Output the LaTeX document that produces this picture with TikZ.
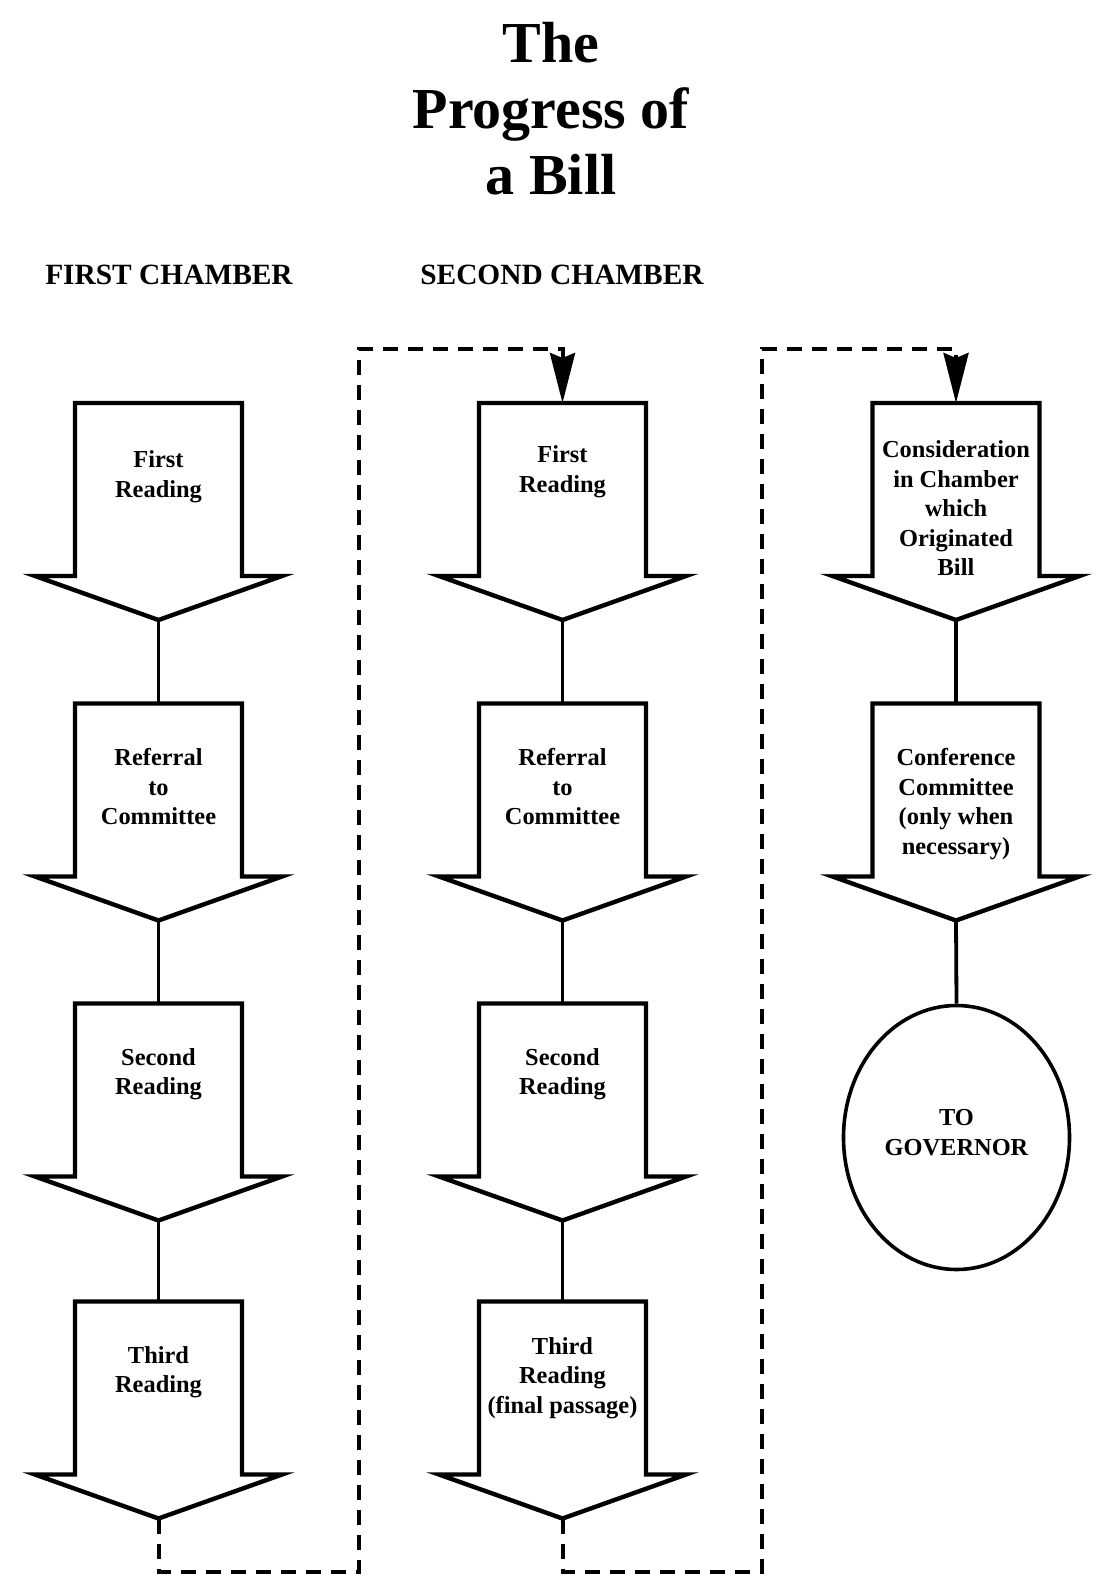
\documentclass[tikz,border=0pt]{standalone}
\usepackage{fontspec}
\setmainfont{Liberation Serif}
\usetikzlibrary{arrows.meta,calc,shapes.geometric}

% block arrow pointing down, drawn round a body node
\newcommand{\blockarrow}[1]{%
  \draw[stageline] (#1.north west) -- (#1.south west) -- ++(-40,0)
    -- ($(#1.south)+(0,44)$) coordinate (#1-tip)
    -- ($(#1.south east)+(40,0)$) -- (#1.south east) -- (#1.north east) -- cycle;}

\begin{document}
\begin{tikzpicture}[x=0.5pt,y=-0.5pt,
    stage/.style={rectangle,minimum width=83.5pt,minimum height=86.5pt,
      inner sep=0pt,outer sep=0pt},
    stagetext/.style={align=center,inner sep=0pt,
      font=\bfseries\fontsize{12.2}{14.75}\selectfont},
    stageline/.style={draw=black,line width=2.2pt},
    passage/.style={draw=black,line width=2pt,dash pattern=on 7.5pt off 5pt,
      -{Stealth[length=25pt,width=12.5pt,inset=2.5pt]}}]
\useasboundingbox (0,0) rectangle (1106,1594);

\node[align=center,font=\bfseries\fontsize{29}{33}\selectfont] (title) at (551,109)
  {The\\Progress of\\a Bill};
\node[font=\bfseries\fontsize{14.7}{17}\selectfont] (first) at (169,275) {FIRST CHAMBER};
\node[font=\bfseries\fontsize{14.7}{17}\selectfont] (second) at (562,275) {SECOND CHAMBER};

\begin{scope}[every node/.style={stage}]
    \node[label={[stagetext,yshift=6.5pt]center:{First\\Reading}}] (c1a) at (158.5,489.5) {};
    \node[label={[stagetext,yshift=1.5pt]center:{Referral\\to\\Committee}}] (c1b) at (158.5,790) {};
    \node[label={[stagetext,yshift=8pt]center:{Second\\Reading}}] (c1c) at (158.5,1090) {};
    \node[label={[stagetext,yshift=8pt]center:{Third\\Reading}}] (c1d) at (158.5,1388) {};
    \node[label={[stagetext,yshift=9pt]center:{First\\Reading}}] (c2a) at (562.5,489.5) {};
    \node[label={[stagetext,yshift=1.5pt]center:{Referral\\to\\Committee}}] (c2b) at (562.5,790) {};
    \node[label={[stagetext,yshift=8pt]center:{Second\\Reading}}] (c2c) at (562.5,1090) {};
    \node[label={[stagetext,yshift=5pt]center:{Third\\Reading\\(final passage)}}] (c2d) at (562.5,1388) {};
    \node[label={[stagetext,yshift=-9.5pt]center:{Consideration\\in Chamber\\which\\Originated\\Bill}}] (c3a) at (956,489.5) {};
    \node[label={[stagetext,yshift=-7pt]center:{Conference\\Committee\\(only when\\necessary)}}] (c3b) at (956,790) {};
\end{scope}
\node[ellipse,draw=black,line width=1.8pt,minimum width=113pt,minimum height=132pt,inner sep=0pt,
  label={[stagetext,yshift=2.5pt]center:{TO\\GOVERNOR}}] (gov) at (956.5,1137.5) {};

\blockarrow{c1a}
\blockarrow{c1b}
\blockarrow{c1c}
\blockarrow{c1d}
\blockarrow{c2a}
\blockarrow{c2b}
\blockarrow{c2c}
\blockarrow{c2d}
\blockarrow{c3a}
\blockarrow{c3b}

\begin{scope}[every edge/.style={draw=black,line width=1.9pt}]
    \path (c1a-tip) edge (c1b.north);
    \path (c1b-tip) edge (c1c.north);
    \path (c1c-tip) edge (c1d.north);
    \path (c2a-tip) edge (c2b.north);
    \path (c2b-tip) edge (c2c.north);
    \path (c2c-tip) edge (c2d.north);
    \path (c3a-tip) edge (c3b.north);
    \path (c3b-tip) edge (gov.north);
\end{scope}

\draw[passage] (c1d-tip) -- ++(0,53) -| (359,349) -| (c2a.north);
\draw[passage] (c2d-tip) -- ++(0,53) -| (762,349) -| (c3a.north);
\end{tikzpicture}
\end{document}
